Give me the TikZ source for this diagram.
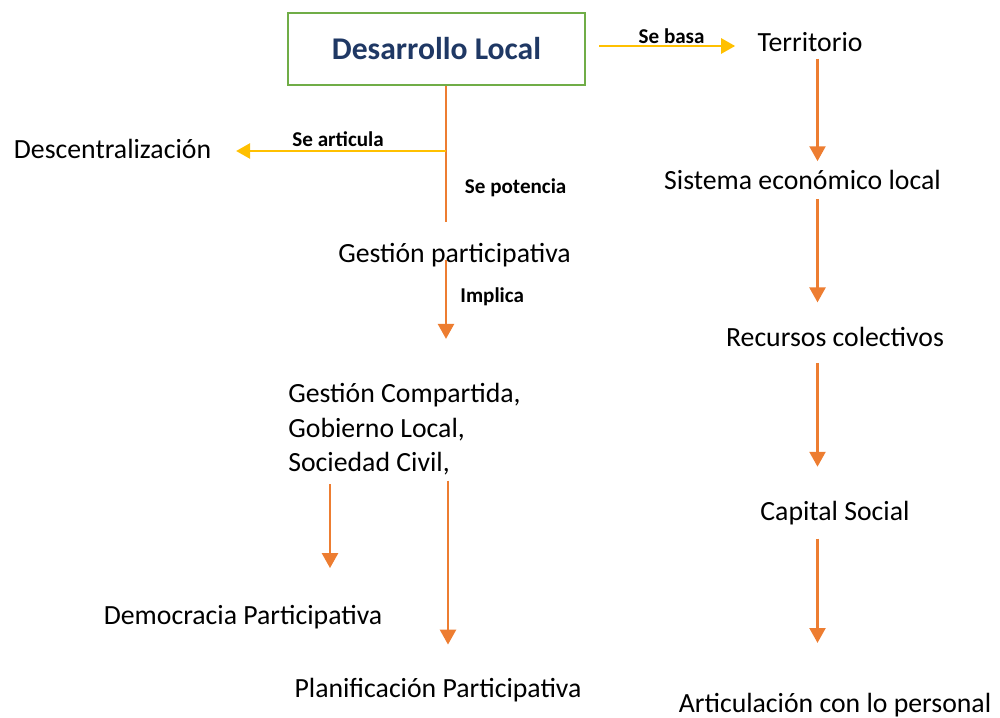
\documentclass[tikz,border=0pt]{standalone}
\usepackage{fontspec}
\setmainfont{Carlito}
\usepackage{xcolor}
\usetikzlibrary{arrows.meta,calc}

\definecolor{boxgreen}{HTML}{70AD47}
\definecolor{titleblue}{HTML}{1F3864}
\definecolor{linkorange}{HTML}{ED7D31}
\definecolor{linkyellow}{HTML}{FFC000}

\begin{document}
\begin{tikzpicture}[x=0.02cm,y=-0.02cm]
\tikzset{every node/.style={inner sep=0pt}}
\tikzset{concept/.style={font=\fontsize{15.8}{19.6}\selectfont}}
\tikzset{item/.style={concept,text height=11pt,text depth=4pt}}
\tikzset{verb/.style={font=\fontsize{12}{14}\selectfont\bfseries}}
\tikzset{mainbox/.style={draw=boxgreen,line width=1.2pt,minimum width=5.94cm,minimum height=1.44cm,
  text=titleblue,font=\fontsize{18}{22}\selectfont\bfseries}}
\tikzset{trunkline/.style={draw=linkorange,line width=1.6pt}}
\tikzset{flow/.style={trunkline,-{Triangle[width=9pt,length=8.5pt]}}}
\tikzset{link/.style={draw=linkyellow,line width=1.6pt,-{Triangle[width=8.5pt,length=8pt]}}}

\useasboundingbox (0,0) rectangle (1000,717);

% concepts
\node[mainbox] (dl) at (436.5,49) {Desarrollo Local};
\node[item] (terr) at (810,45) {Territorio};
\node[item] (desc) at (112.5,152) {Descentralización};
\node[item] (gp) at (454.5,256) {Gestión participativa};
\node[concept,align=left,anchor=north west] (gc) at (288,383)
  {Gestión Compartida,\\Gobierno Local,\\Sociedad Civil,};
\node[item] (dem) at (243,618) {Democracia Participativa};
\node[item] (plan) at (438,691) {Planificación Participativa};
\node[item] (sis) at (802.5,183) {Sistema económico local};
\node[item] (rec) at (835,340) {Recursos colectivos};
\node[item] (cap) at (835,514) {Capital Social};
\node[item] (art) at (835,706) {Articulación con lo personal};

% columns of the connectors
\coordinate (lc) at (446,0);
\coordinate (dc) at (330,0);
\coordinate (pc) at (448,0);
\coordinate (rc) at (817.5,0);
\coordinate (split) at (446,151);
\coordinate (trunk) at (446,222);

% left branch
\draw[link,shorten <=7.4pt,shorten >=12.5pt] ($(dl.east)+(0,-3)$) -- ($(dl.east -| terr.west)+(0,-3)$)
  node[midway,above=0.8pt,verb] {Se basa};
\draw[trunkline] (dl.south -| lc) -- (trunk)
  node[pos=0.745,anchor=west,xshift=10pt,verb] {Se potencia};
\draw[link,shorten >=14pt] (split) -- (split -| desc.east)
  node[pos=0.46,above=1.9pt,verb] {Se articula};
\draw[flow,shorten <=2.3pt,shorten >=25.1pt] (gp.center -| lc) -- (gc.north -| lc)
  node[pos=0.32,anchor=west,xshift=7.4pt,verb] {Implica};
\draw[flow,shorten <=4.9pt,shorten >=20.7pt] (gc.south -| dc) -- (dem.north -| dc);
\draw[flow,shorten <=2.9pt,shorten >=18.7pt] (gc.south -| pc) -- (plan.north -| pc);

% right column
\draw[flow,shorten >=4.7pt] (terr.south -| rc) -- (sis.north -| rc);
\draw[flow,shorten <=1.3pt,shorten >=13.7pt] (sis.south -| rc) -- (rec.north -| rc);
\draw[flow,shorten <=5.3pt,shorten >=19.2pt] (rec.south -| rc) -- (cap.north -| rc);
\draw[flow,shorten <=6.3pt,shorten >=28.2pt] (cap.south -| rc) -- (art.north -| rc);
\end{tikzpicture}
\end{document}
